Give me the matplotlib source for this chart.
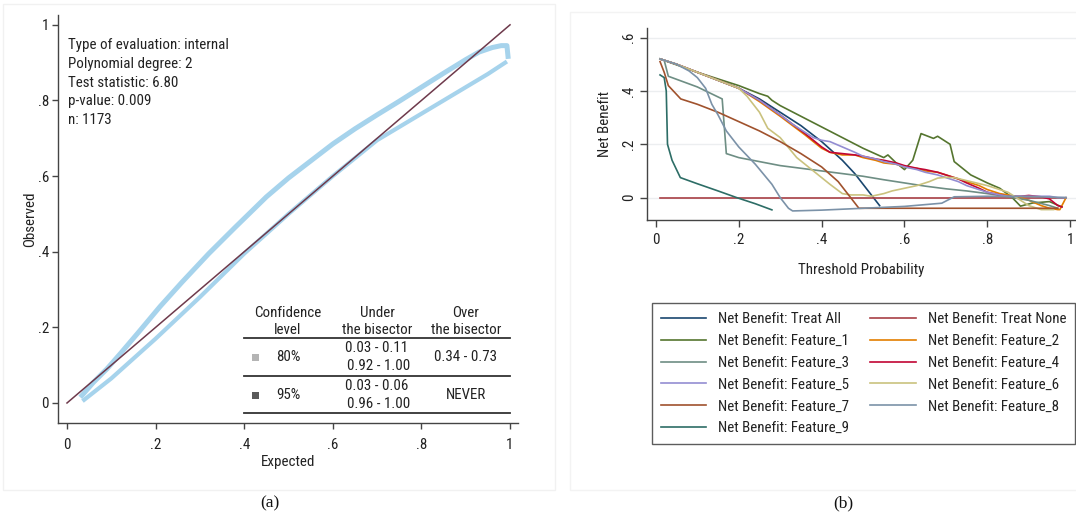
import matplotlib
matplotlib.use('Agg')
import matplotlib.pyplot as plt
from matplotlib import font_manager
from matplotlib.lines import Line2D
from matplotlib.patches import Rectangle

# ---- panel (a): calibration belt ----
exp_upper = [0.03, 0.06, 0.09, 0.12, 0.16, 0.21, 0.26, 0.32, 0.38, 0.45, 0.5, 0.55, 0.6,
             0.65, 0.7, 0.75, 0.8, 0.85, 0.9, 0.93, 0.96, 0.98, 0.993, 0.996]
obs_upper = [0.015, 0.055, 0.09, 0.13, 0.185, 0.255, 0.32, 0.395, 0.465, 0.545, 0.595, 0.64,
             0.685, 0.725, 0.762, 0.798, 0.835, 0.872, 0.908, 0.928, 0.94, 0.945, 0.945, 0.91]
exp_lower = [0.035, 0.1, 0.2, 0.3, 0.4, 0.5, 0.6, 0.7, 0.75, 0.8, 0.85, 0.9, 0.95, 0.993]
obs_lower = [0.005, 0.065, 0.17, 0.28, 0.395, 0.5, 0.6, 0.695, 0.73, 0.765, 0.80, 0.835,
             0.87, 0.903]
bisector = [0, 1]

info_lines = ["Type of evaluation: internal", "Polynomial degree: 2", "Test statistic: 6.80",
              "p-value: 0.009", "n: 1173"]
table_head = [("Confidence", "level"), ("Under", "the bisector"), ("Over", "the bisector")]
table_rows = [("80%", "0.03 - 0.11", "0.92 - 1.00", "0.34 - 0.73"),
              ("95%", "0.03 - 0.06", "0.96 - 1.00", "NEVER")]
level_colors = ["#b4b4b4", "#5a5a5a"]

# ---- panel (b): decision curves ----
treat_all_x = [0.01, 0.05, 0.1, 0.15, 0.2, 0.25, 0.3, 0.35, 0.4, 0.45, 0.48, 0.5, 0.52, 0.54]
treat_all_y = [0.52, 0.50, 0.47, 0.44, 0.41, 0.37, 0.32, 0.27, 0.21, 0.14, 0.09, 0.05, 0.01, -0.03]
treat_none_x = [0.01, 0.99]
treat_none_y = [0.0, 0.0]

f1_x = [0.01, 0.1, 0.2, 0.25, 0.27, 0.28, 0.3, 0.35, 0.4, 0.45, 0.5, 0.55, 0.56, 0.58, 0.6,
        0.62, 0.64, 0.67, 0.68, 0.71, 0.72, 0.76, 0.8, 0.83, 0.86, 0.88, 0.91, 0.95, 0.98]
f1_y = [0.52, 0.47, 0.42, 0.39, 0.38, 0.365, 0.345, 0.305, 0.265, 0.225, 0.185, 0.15, 0.16,
        0.13, 0.105, 0.14, 0.24, 0.222, 0.23, 0.20, 0.135, 0.085, 0.055, 0.035, 0.0, -0.032,
        -0.02, -0.015, -0.035]

cl_x = [0.01, 0.05, 0.1, 0.15, 0.2, 0.25, 0.3, 0.33, 0.36, 0.38, 0.4, 0.42, 0.45, 0.48, 0.5,
        0.53, 0.55, 0.58, 0.6, 0.63, 0.65, 0.68, 0.7, 0.73, 0.75, 0.78, 0.8, 0.83, 0.85, 0.88,
        0.9, 0.93, 0.95, 0.97]
f2_x = cl_x + [0.975, 0.99]
f2_y = [0.52, 0.50, 0.47, 0.44, 0.41, 0.36, 0.305, 0.27, 0.235, 0.21, 0.185, 0.17, 0.16, 0.16,
        0.15, 0.14, 0.13, 0.125, 0.115, 0.11, 0.10, 0.095, 0.085, 0.07, 0.06, 0.045, 0.03,
        0.015, 0.01, 0.0, -0.01, -0.03, -0.04, -0.045, -0.045, 0.0]
f4_x = cl_x + [0.98]
f4_y = [0.52, 0.50, 0.47, 0.44, 0.41, 0.365, 0.31, 0.275, 0.24, 0.215, 0.19, 0.17, 0.165,
        0.16, 0.155, 0.145, 0.14, 0.13, 0.12, 0.11, 0.105, 0.095, 0.085, 0.07, 0.055, 0.035,
        0.02, 0.01, 0.005, 0.005, 0.008, 0.003, -0.005, -0.03, -0.035]
f5_x = cl_x + [0.99]
f5_y = [0.52, 0.50, 0.47, 0.44, 0.41, 0.365, 0.31, 0.275, 0.245, 0.225, 0.215, 0.21, 0.19,
        0.17, 0.155, 0.145, 0.135, 0.125, 0.115, 0.105, 0.095, 0.085, 0.075, 0.06, 0.045,
        0.03, 0.02, 0.01, 0.005, 0.005, 0.005, 0.005, 0.005, 0.0, 0.0]

f3_x = [0.01, 0.02, 0.03, 0.1, 0.16, 0.17, 0.2, 0.25, 0.3, 0.35, 0.4, 0.45, 0.5, 0.55, 0.6,
        0.65, 0.7, 0.75, 0.8, 0.85, 0.9, 0.95, 0.97]
f3_y = [0.52, 0.515, 0.455, 0.415, 0.37, 0.165, 0.15, 0.135, 0.12, 0.11, 0.10, 0.09, 0.08,
        0.067, 0.055, 0.043, 0.033, 0.025, 0.015, 0.003, -0.01, -0.03, -0.04]

f6_x = [0.01, 0.05, 0.1, 0.15, 0.2, 0.22, 0.25, 0.27, 0.3, 0.34, 0.38, 0.42, 0.45, 0.47, 0.5,
        0.52, 0.55, 0.57, 0.6, 0.63, 0.66, 0.68, 0.7, 0.72, 0.76, 0.8, 0.82, 0.85, 0.87, 0.9,
        0.93, 0.96]
f6_y = [0.52, 0.50, 0.47, 0.44, 0.41, 0.38, 0.32, 0.26, 0.225, 0.15, 0.10, 0.05, 0.015, 0.01,
        0.01, 0.005, 0.015, 0.025, 0.035, 0.045, 0.06, 0.073, 0.076, 0.075, 0.06, 0.045,
        0.035, 0.02, 0.0, -0.03, -0.045, -0.045]

f7_x = [0.01, 0.02, 0.03, 0.06, 0.1, 0.15, 0.2, 0.25, 0.3, 0.35, 0.4, 0.44, 0.47, 0.49, 0.97]
f7_y = [0.51, 0.47, 0.42, 0.37, 0.35, 0.32, 0.285, 0.25, 0.21, 0.165, 0.115, 0.06, 0.0, -0.04,
        -0.04]

f8_x = [0.01, 0.05, 0.08, 0.1, 0.12, 0.135, 0.15, 0.17, 0.2, 0.24, 0.28, 0.3, 0.32, 0.33, 0.4,
        0.5, 0.6, 0.69, 0.72, 0.8, 0.9, 0.99]
f8_y = [0.52, 0.50, 0.475, 0.45, 0.41, 0.35, 0.31, 0.25, 0.19, 0.125, 0.05, 0.0, -0.04, -0.05,
        -0.047, -0.04, -0.033, -0.021, 0.003, 0.005, 0.004, 0.0]

f9_x = [0.01, 0.02, 0.025, 0.028, 0.039, 0.059, 0.1, 0.15, 0.195, 0.24, 0.28]
f9_y = [0.46, 0.45, 0.40, 0.20, 0.14, 0.075, 0.052, 0.025, 0.0, -0.023, -0.046]

series = [
    ("Net Benefit: Treat All", treat_all_x, treat_all_y, "#1a476f"),
    ("Net Benefit: Treat None", treat_none_x, treat_none_y, "#a83f45"),
    ("Net Benefit: Feature_1", f1_x, f1_y, "#55752f"),
    ("Net Benefit: Feature_2", f2_x, f2_y, "#e37e00"),
    ("Net Benefit: Feature_3", f3_x, f3_y, "#6e8e84"),
    ("Net Benefit: Feature_4", f4_x, f4_y, "#c10534"),
    ("Net Benefit: Feature_5", f5_x, f5_y, "#938dd2"),
    ("Net Benefit: Feature_6", f6_x, f6_y, "#cac27e"),
    ("Net Benefit: Feature_7", f7_x, f7_y, "#a0522d"),
    ("Net Benefit: Feature_8", f8_x, f8_y, "#7b92a8"),
    ("Net Benefit: Feature_9", f9_x, f9_y, "#2d6d66"),
]
ticks = [0, 0.2, 0.4, 0.6, 0.8, 1]
tick_labels = ["0", ".2", ".4", ".6", ".8", "1"]

# Stata draws Arial-like narrow text; use a narrow face if one is there
SANS, FS, STRETCH = 'Liberation Sans', 9.5, 'normal'
for f in font_manager.fontManager.ttflist:
    fn = f.fname.replace(' ', '')
    if 'LiberationSansNarrow-Regular' in fn or 'LiberationSansNarrow.' in fn:
        SANS, FS, STRETCH = f.name, 11.4, f.stretch
        break
else:
    for f in font_manager.fontManager.ttflist:
        fn = f.fname.replace(' ', '')
        if 'RobotoCondensed-Regular' in fn:
            SANS, FS, STRETCH = f.name, 10.8, f.stretch
            break
plt.rcParams['font.family'] = [SANS, 'DejaVu Sans']
plt.rcParams['font.stretch'] = STRETCH
plt.rcParams['font.size'] = FS
TXT = '#222222'

W, H = 1076, 521
fig = plt.figure(figsize=(W / 100, H / 100), dpi=100)


def fx(px):
    return px / W


def fy(py):
    return 1 - py / H


# faint panel frames
fig.add_artist(Rectangle((fx(3), fy(490)), fx(555) - fx(3), fy(4) - fy(490),
                         fill=False, ec='#f1f1f1', lw=1))
fig.add_artist(Rectangle((fx(570), fy(490)), fx(1080) - fx(570), fy(12) - fy(490),
                         fill=False, ec='#f3f3f3', lw=1))

# ---------------- (a) ----------------
axa = fig.add_axes([fx(58), fy(423), fx(518) - fx(58), fy(15) - fy(423)])
axa.plot(exp_upper, obs_upper, color='#a6d3ec', lw=3.6, solid_capstyle='butt')
axa.plot(exp_lower, obs_lower, color='#a6d3ec', lw=3.0, solid_capstyle='butt')
axa.plot(bisector, bisector, color='#6e3a4c', lw=1.1)
axa.set_xlim(-0.0203, 1.018)
axa.set_ylim(-0.0529, 1.026)
axa.set_xticks(ticks)
axa.set_xticklabels(tick_labels)
axa.set_yticks(ticks)
axa.set_yticklabels(tick_labels)
for s in ['top', 'right']:
    axa.spines[s].set_visible(False)
for s in ['left', 'bottom']:
    axa.spines[s].set_color('#444444')
    axa.spines[s].set_linewidth(1.0)
axa.tick_params(axis='x', direction='out', length=4, width=1, color='#444444', pad=6.5,
                labelcolor=TXT)
axa.tick_params(axis='y', direction='out', length=4, width=1, color='#444444', pad=2.5,
                labelcolor=TXT)
axa.set_xlabel("Expected", color=TXT, va='center', ha='center')
axa.set_ylabel("Observed", color=TXT, va='center', ha='center')
axa.xaxis.set_label_coords(0.5, (423 - 462) / 408)
axa.yaxis.set_label_coords((30 - 58) / 460, 0.5)

for i, line in enumerate(info_lines):
    fig.text(fx(68), fy(45 + i * 18.75), line, ha='left', va='center', color=TXT)

# table of the belt
col_x = [288, 377, 466]
for cx, (h1, h2) in zip(col_x, table_head):
    fig.text(fx(cx), fy(313), h1, ha='center', va='center', color=TXT)
    fig.text(fx(cx), fy(330), h2, ha='center', va='center', color=TXT)
for ly in [337.7, 375.7, 413.3]:
    fig.add_artist(Line2D([fx(244), fx(510)], [fy(ly), fy(ly)], color='#333333', lw=1.3))
for r, (lev, u1, u2, over) in enumerate(table_rows):
    yc = 357 + r * 38
    fig.add_artist(Rectangle((fx(251.5), fy(yc + 3.5)), 7 / W, 7 / H,
                             color=level_colors[r], lw=0))
    fig.text(fx(col_x[0]), fy(yc), lev, ha='center', va='center', color=TXT)
    fig.text(fx(col_x[1]), fy(yc - 9.5), u1, ha='center', va='center', color=TXT)
    fig.text(fx(col_x[1] + 2), fy(yc + 9.5), u2, ha='center', va='center', color=TXT)
    fig.text(fx(col_x[2]), fy(yc), over, ha='center', va='center', color=TXT)

# ---------------- (b) ----------------
axb = fig.add_axes([fx(646.7), fy(220), fx(1076) - fx(646.7), fy(28) - fy(220)])
for g in [0, 0.2, 0.4, 0.6]:
    axb.axhline(g, color='#eceef0', lw=1, zorder=0)
handles = {}
for name, xs, ys, col in series:
    h, = axb.plot(xs, ys, color=col, lw=1.2, label=name)
    handles[name] = h
axb.set_xlim(-0.0222, 1.014)
axb.set_ylim(-0.084, 0.636)
axb.set_xticks(ticks)
axb.set_xticklabels(tick_labels)
axb.set_yticks([0, 0.2, 0.4, 0.6])
axb.set_yticklabels(["0", ".2", ".4", ".6"], rotation=90, va='center')
for s in ['top', 'right']:
    axb.spines[s].set_visible(False)
for s in ['left', 'bottom']:
    axb.spines[s].set_color('#444444')
    axb.spines[s].set_linewidth(1.0)
axb.tick_params(axis='x', direction='out', length=5, width=1, color='#444444', pad=4,
                labelcolor=TXT)
axb.tick_params(axis='y', direction='out', length=5, width=1, color='#444444', pad=2.5,
                labelcolor=TXT)
axb.set_xlabel("Threshold Probability", color=TXT, va='center', ha='center')
axb.set_ylabel("Net Benefit", color=TXT, va='center', ha='center')
axb.xaxis.set_label_coords(0.5, (220 - 270) / 192)
axb.yaxis.set_label_coords((605 - 646.7) / 429.3, 0.5)

names_order = [s[0] for s in series]
order = names_order[0::2] + names_order[1::2]
leg = fig.legend([handles[n] for n in order], order, ncol=2, loc='upper left',
                 bbox_to_anchor=(fx(651.7), fy(441.7), fx(1075) - fx(651.7), fy(303.3) - fy(441.7)),
                 mode='expand', frameon=True, fancybox=False, handlelength=3.05,
                 handletextpad=0.8, labelspacing=0.52, borderpad=0.6, borderaxespad=0,
                 columnspacing=1.5)
leg.get_frame().set_edgecolor('#333333')
leg.get_frame().set_linewidth(1.0)
for t in leg.get_texts():
    t.set_color(TXT)

fig.text(fx(270), fy(503), "(a)", ha='center', va='center', family='Liberation Serif',
         fontsize=12.5, color='#111111')
fig.text(fx(843), fy(503), "(b)", ha='center', va='center', family='Liberation Serif',
         fontsize=12.5, color='#111111')

fig.savefig('out.png', dpi=100)
